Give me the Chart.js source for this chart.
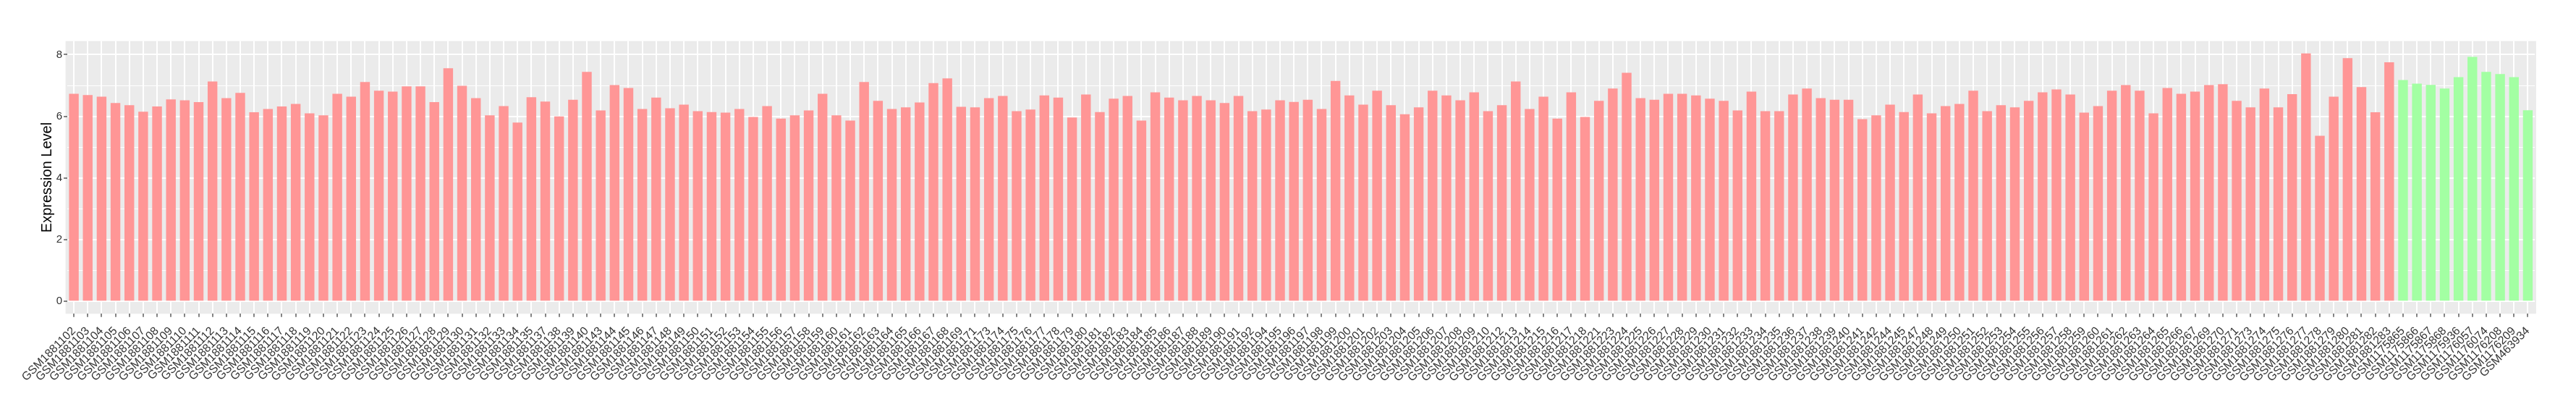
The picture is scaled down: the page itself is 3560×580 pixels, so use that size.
<!DOCTYPE html>
<html>
<head>
<meta charset="utf-8">
<title>Expression Level</title>
<script src="https://cdn.jsdelivr.net/npm/chart.js"></script>
<style>
  html, body { margin: 0; padding: 0; background: #fff; }
  #wrap { width: 3560px; height: 580px; }
</style>
</head>
<body>
<div id="wrap"><canvas id="chart" width="3560" height="580"></canvas></div>
<script>
// sample ids, tumour group (red) then normal group (green)
const redSamples = [
  'GSM1881102','GSM1881103','GSM1881104','GSM1881105','GSM1881106','GSM1881107','GSM1881108','GSM1881109',
  'GSM1881110','GSM1881111','GSM1881112','GSM1881113','GSM1881114','GSM1881115','GSM1881116','GSM1881117',
  'GSM1881118','GSM1881119','GSM1881120','GSM1881121','GSM1881122','GSM1881123','GSM1881124','GSM1881125',
  'GSM1881126','GSM1881127','GSM1881128','GSM1881129','GSM1881130','GSM1881131','GSM1881132','GSM1881133',
  'GSM1881134','GSM1881135','GSM1881137','GSM1881138','GSM1881139','GSM1881140','GSM1881143','GSM1881144',
  'GSM1881145','GSM1881146','GSM1881147','GSM1881148','GSM1881149','GSM1881150','GSM1881151','GSM1881152',
  'GSM1881153','GSM1881154','GSM1881155','GSM1881156','GSM1881157','GSM1881158','GSM1881159','GSM1881160',
  'GSM1881161','GSM1881162','GSM1881163','GSM1881164','GSM1881165','GSM1881166','GSM1881167','GSM1881168',
  'GSM1881169','GSM1881171','GSM1881173','GSM1881174','GSM1881175','GSM1881176','GSM1881177','GSM1881178',
  'GSM1881179','GSM1881180','GSM1881181','GSM1881182','GSM1881183','GSM1881184','GSM1881185','GSM1881186',
  'GSM1881187','GSM1881188','GSM1881189','GSM1881190','GSM1881191','GSM1881192','GSM1881194','GSM1881195',
  'GSM1881196','GSM1881197','GSM1881198','GSM1881199','GSM1881200','GSM1881201','GSM1881202','GSM1881203',
  'GSM1881204','GSM1881205','GSM1881206','GSM1881207','GSM1881208','GSM1881209','GSM1881210','GSM1881212',
  'GSM1881213','GSM1881214','GSM1881215','GSM1881216','GSM1881217','GSM1881218','GSM1881221','GSM1881223',
  'GSM1881224','GSM1881225','GSM1881226','GSM1881227','GSM1881228','GSM1881229','GSM1881230','GSM1881231',
  'GSM1881232','GSM1881233','GSM1881234','GSM1881235','GSM1881236','GSM1881237','GSM1881238','GSM1881239',
  'GSM1881240','GSM1881241','GSM1881242','GSM1881244','GSM1881245','GSM1881247','GSM1881248','GSM1881249',
  'GSM1881250','GSM1881251','GSM1881252','GSM1881253','GSM1881254','GSM1881255','GSM1881256','GSM1881257',
  'GSM1881258','GSM1881259','GSM1881260','GSM1881261','GSM1881262','GSM1881263','GSM1881264','GSM1881265',
  'GSM1881266','GSM1881267','GSM1881269','GSM1881270','GSM1881271','GSM1881273','GSM1881274','GSM1881275',
  'GSM1881276','GSM1881277','GSM1881278','GSM1881279','GSM1881280','GSM1881281','GSM1881282','GSM1881283'
];
const redValues = [
  6.73, 6.69, 6.64, 6.43, 6.36, 6.15, 6.32, 6.55,
  6.52, 6.46, 7.13, 6.59, 6.76, 6.13, 6.24, 6.32,
  6.40, 6.10, 6.03, 6.73, 6.64, 7.11, 6.83, 6.80,
  6.97, 6.97, 6.46, 7.56, 6.99, 6.59, 6.03, 6.33,
  5.80, 6.62, 6.48, 6.00, 6.54, 7.44, 6.19, 7.01,
  6.92, 6.24, 6.61, 6.26, 6.38, 6.17, 6.14, 6.12,
  6.24, 5.98, 6.33, 5.93, 6.03, 6.19, 6.73, 6.03,
  5.86, 7.11, 6.50, 6.24, 6.29, 6.45, 7.08, 7.23,
  6.31, 6.29, 6.59, 6.66, 6.17, 6.22, 6.68, 6.61,
  5.96, 6.71, 6.14, 6.57, 6.66, 5.86, 6.78, 6.61,
  6.52, 6.66, 6.52, 6.43, 6.66, 6.17, 6.22, 6.52,
  6.47, 6.54, 6.24, 7.15, 6.68, 6.38, 6.83, 6.36,
  6.07, 6.29, 6.83, 6.68, 6.52, 6.78, 6.17, 6.36,
  7.13, 6.24, 6.64, 5.93, 6.78, 5.98, 6.50, 6.90,
  7.41, 6.59, 6.54, 6.73, 6.73, 6.68, 6.57, 6.50,
  6.19, 6.80, 6.17, 6.17, 6.71, 6.90, 6.59, 6.54,
  6.54, 5.91, 6.03, 6.38, 6.14, 6.71, 6.10, 6.33,
  6.40, 6.83, 6.17, 6.36, 6.29, 6.50, 6.78, 6.87,
  6.71, 6.12, 6.33, 6.83, 7.01, 6.83, 6.10, 6.92,
  6.73, 6.80, 7.01, 7.04, 6.50, 6.29, 6.90, 6.29,
  6.72, 8.04, 5.37, 6.64, 7.89, 6.95, 6.13, 7.75
];
const greenSamples = [
  'GSM1175865','GSM1175866','GSM1175867','GSM1175868','GSM1175936',
  'GSM1176057','GSM1176074','GSM1176208','GSM1176209','GSM463934'
];
const greenValues = [7.18, 7.06, 7.02, 6.90, 7.27, 7.93, 7.44, 7.37, 7.27, 6.20];

const RED = '#FF9696';
const GREEN = '#A3FFA3';

const labels = redSamples.concat(greenSamples);
const values = redValues.concat(greenValues);
const colors = redSamples.map(() => RED).concat(greenSamples.map(() => GREEN));

// grey ggplot-style panel behind the bars
const panelBg = {
  id: 'panelBg',
  beforeDraw(chart) {
    const { ctx, chartArea: a } = chart;
    ctx.save();
    ctx.fillStyle = '#EBEBEB';
    ctx.fillRect(a.left - 1.9, a.top, a.right - a.left + 3.8, a.bottom - a.top);
    ctx.restore();
  }
};

const FONT = "'Liberation Sans', Arial, Helvetica, sans-serif";

new Chart(document.getElementById('chart').getContext('2d'), {
  type: 'bar',
  data: {
    labels: labels,
    datasets: [{
      data: values,
      backgroundColor: colors,
      borderWidth: 0,
      barPercentage: 0.7,
      categoryPercentage: 1.0
    }]
  },
  options: {
    responsive: false,
    animation: false,
    devicePixelRatio: 1,
    layout: { padding: { left: 0, top: 56.7, right: 57, bottom: 0 } },
    plugins: {
      legend: { display: false },
      tooltip: { enabled: false }
    },
    scales: {
      x: {
        offset: true,
        afterFit(scale) { scale.height = 146.7; },
        border: { display: false },
        grid: {
          offset: false,
          color: '#FFFFFF',
          lineWidth: 2,
          drawTicks: true,
          tickLength: 4.5,
          tickColor: '#333333',
          tickWidth: 1.2
        },
        ticks: {
          autoSkip: false,
          maxRotation: 45,
          minRotation: 45,
          padding: 10,
          color: '#333333',
          font: { family: FONT, size: 16 }
        }
      },
      y: {
        min: -0.4,
        max: 8.44,
        afterFit(scale) { scale.width = 92.5; },
        border: { display: false },
        grid: {
          color: '#FFFFFF',
          lineWidth: ctx => (ctx.tick && ctx.tick.value % 2 === 0) ? 2 : 1,
          drawTicks: true,
          tickLength: 4.5,
          tickColor: ctx => (ctx.tick && ctx.tick.value % 2 === 0) ? '#333333' : 'rgba(0,0,0,0)',
          tickWidth: 1.2
        },
        ticks: {
          stepSize: 1,
          includeBounds: false,
          padding: 2,
          color: '#333333',
          font: { family: FONT, size: 15 },
          callback: v => (v % 2 === 0 ? String(v) : '')
        },
        title: {
          display: true,
          text: 'Expression Level',
          color: '#000000',
          font: { family: FONT, size: 20 },
          padding: { top: 53, bottom: 0 }
        }
      }
    }
  },
  plugins: [panelBg]
});
</script>
</body>
</html>
